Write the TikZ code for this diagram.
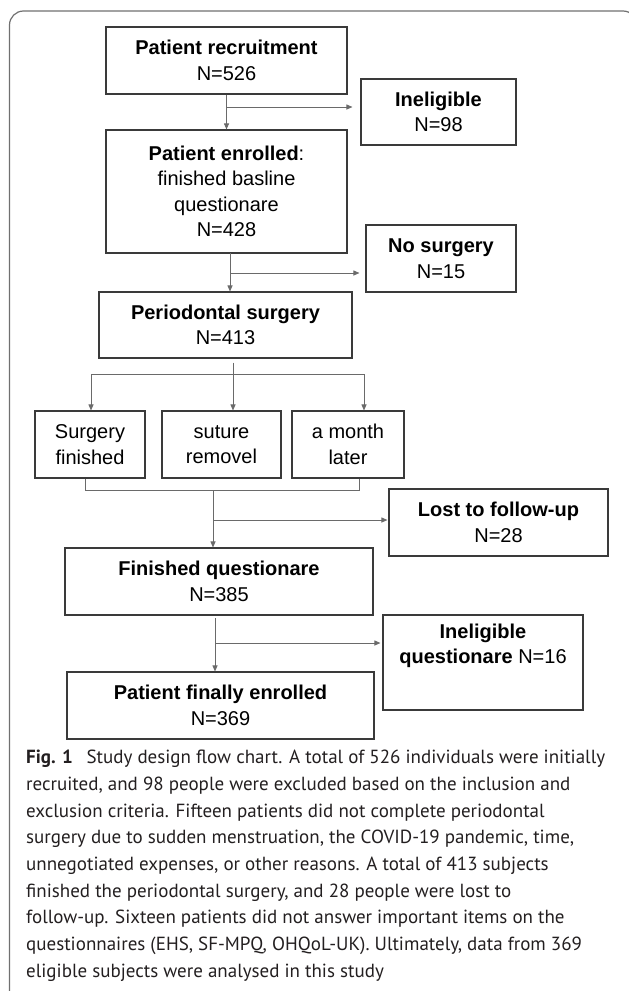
\documentclass[tikz,border=0pt]{standalone}
\usepackage{fontspec}
\setmainfont{Liberation Sans}
\newfontfamily\capfont{PT Sans}
\usetikzlibrary{arrows.meta,calc,positioning}

\definecolor{boxgray}{HTML}{3A3A3A}
\definecolor{linkgray}{HTML}{6A6A6A}
\definecolor{framegray}{HTML}{707070}
\definecolor{captext}{HTML}{231F20}

\tikzset{
  box/.style={draw=boxgray, line width=1.1pt, align=center, inner sep=0pt,
    font=\fontsize{20}{25.5}\selectfont, text=black},
  link/.style={draw=linkgray, line width=0.9pt},
  arr/.style={link, -{Triangle[length=6pt,width=5pt]}},
}

\begin{document}
\begin{tikzpicture}[x=1pt,y=-1pt]
  \useasboundingbox (0,0) rectangle (629,991);
  % outer frame
  \draw[framegray, line width=1.2pt, rounded corners=14pt]
    (9.5,1010) -- (9.5,11) -- (637,11) -- (637,1010);

  % main column
  \node[box, minimum width=241pt, minimum height=67pt] (recruit) at (226.5,60.5)
    {\textbf{Patient recruitment}\\N=526};
  \node[box, minimum width=241pt, minimum height=123pt] (enrolled) at (226.5,191.5)
    {\textbf{Patient enrolled}:\\finished basline\\questionare\\N=428};
  \node[box, minimum width=253pt, minimum height=66pt] (perio) at (225.5,325)
    {\textbf{Periodontal surgery}\\N=413};
  \node[box, minimum width=308pt, minimum height=67pt] (finq) at (219,581.5)
    {\textbf{Finished questionare}\\N=385};
  \node[box, minimum width=307pt, minimum height=67pt] (final) at (220.5,705.5)
    {\textbf{Patient finally enrolled}\\N=369};

  % time points
  \node[box, minimum width=110pt, minimum height=67pt] (sfin) at (90,444.5)
    {Surgery\\finished};
  \node[box, minimum width=119pt, minimum height=67pt] (suture) at (221.5,444.5)
    {suture\\removel};
  \node[box, minimum width=112pt, minimum height=67pt] (month) at (348,444.5)
    {a month\\later};

  % exclusions
  \node[box, minimum width=155pt, minimum height=66pt] (inelig) at (438.5,112)
    {\textbf{Ineligible}\\N=98};
  \node[box, minimum width=150pt, minimum height=67pt] (nosurg) at (441,258.5)
    {\textbf{No surgery}\\N=15};
  \node[box, minimum width=219pt, minimum height=67pt] (lost) at (498.5,522.5)
    {\textbf{Lost to follow-up}\\N=28};
  \node[box, minimum width=200pt, minimum height=95pt] (inq) at (483,662.5) {};
  \node[box, draw=none] (inqtext) at (483,646)
    {\textbf{Ineligible}\\\textbf{questionare} N=16};

  % recruitment -> enrolled
  \draw[arr] (recruit.south) -- (enrolled.north);
  \coordinate (b1) at (226.5,107);
  \draw[arr] (b1) -- ([xshift=-8pt]inelig.west |- b1);

  % enrolled -> surgery
  \coordinate (e0) at (230,253);
  \draw[arr] (e0) -- (e0 |- perio.north);
  \coordinate (b2) at (230,273);
  \draw[arr] (b2) -- ([xshift=-6pt]nosurg.west |- b2);

  % surgery -> three time points
  \coordinate (s0) at (233,374);
  \coordinate (sl) at (91,374);
  \coordinate (sr) at (364,374);
  \draw[link] ([yshift=-4pt]perio.south -| s0) -- (s0);
  \draw[link] (sl) -- (sr);
  \draw[arr] (sl) -- (sl |- sfin.north);
  \draw[arr] (s0) -- (s0 |- suture.north);
  \draw[arr] (sr) -- (sr |- month.north);

  % time points -> finished questionare
  \coordinate (ml) at (85,490);
  \coordinate (mr) at (359,490);
  \coordinate (m0) at (213,490);
  \draw[link] (sfin.south -| ml) -- (ml) -- (mr) -- (month.south -| mr);
  \draw[arr] (m0) -- (m0 |- finq.north);
  \coordinate (b3) at (214,520);
  \draw[arr] (b3) -- ([xshift=-1pt]lost.west |- b3);

  % finished questionare -> finally enrolled
  \coordinate (f0) at (215,618);
  \draw[arr] (f0) -- (f0 |- final.north);
  \coordinate (b4) at (215,643);
  \draw[arr] (b4) -- ([xshift=-2pt]inq.west |- b4);

  % caption
  \node[anchor=north west, inner sep=0pt, align=left, text=captext,
    font=\capfont\fontsize{19}{26.7}\selectfont] (caption) at (26,750)
    {\textbf{Fig. 1}\hspace{0.45em} Study design flow chart. A total of 526 individuals were initially\\
     recruited, and 98 people were excluded based on the inclusion and\\
     exclusion criteria. Fifteen patients did not complete periodontal\\
     surgery due to sudden menstruation, the COVID-19 pandemic, time,\\
     unnegotiated expenses, or other reasons. A total of 413 subjects\\
     finished the periodontal surgery, and 28 people were lost to\\
     follow-up. Sixteen patients did not answer important items on the\\
     questionnaires (EHS, SF-MPQ, OHQoL-UK). Ultimately, data from 369\\
     eligible subjects were analysed in this study};
\end{tikzpicture}
\end{document}
